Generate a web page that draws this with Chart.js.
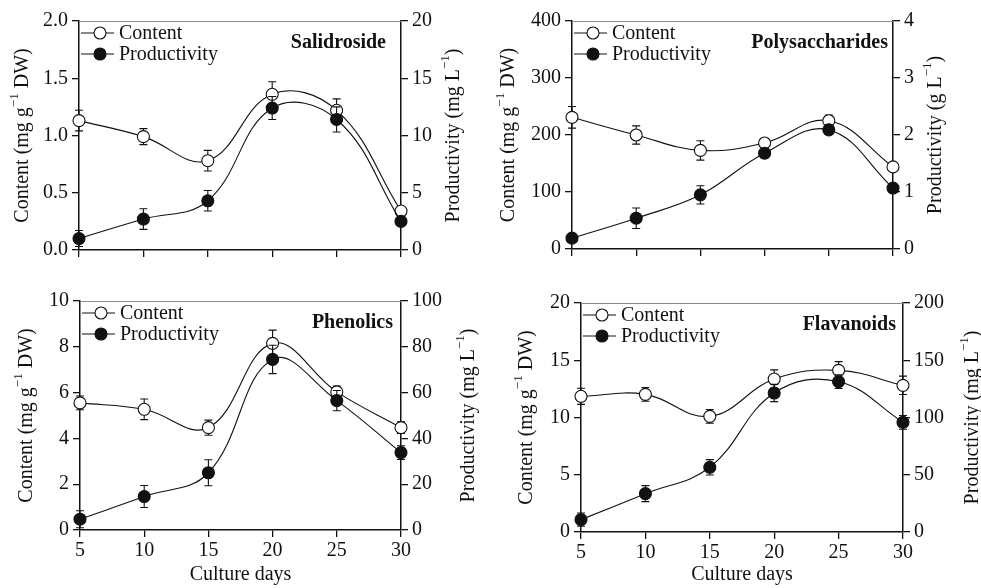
<!DOCTYPE html>
<html>
<head>
<meta charset="utf-8">
<script src="https://cdn.jsdelivr.net/npm/chart.js@4.4.0/dist/chart.umd.min.js"></script>
<style>
html, body { margin: 0; padding: 0; background: #fff; }
#wrap { position: relative; width: 981px; height: 588px; overflow: hidden; }
canvas { position: absolute; }
</style>
</head>
<body>
<div id="wrap">
  <canvas id="c1" width="490" height="280" style="left:0;top:0"></canvas>
  <canvas id="c2" width="491" height="280" style="left:490px;top:0"></canvas>
  <canvas id="c3" width="490" height="308" style="left:0;top:280px"></canvas>
  <canvas id="c4" width="491" height="308" style="left:490px;top:280px"></canvas>
</div>
<script>
// Culture days (x axis)
const days = [5, 10, 15, 20, 25, 30];

// Salidroside
const salContent = [1.13, 0.99, 0.78, 1.36, 1.22, 0.34];
const salContentErr = [0.09, 0.07, 0.09, 0.11, 0.10, 0.02];
const salProd = [1.0, 2.7, 4.3, 12.4, 11.4, 2.5];
const salProdErr = [0.7, 0.9, 0.9, 1.0, 1.1, 0.3];

// Polysaccharides
const polContent = [231, 200, 173, 186, 225, 144];
const polContentErr = [19, 16, 17, 5, 10, 5];
const polProd = [0.19, 0.54, 0.95, 1.68, 2.09, 1.07];
const polProdErr = [0.03, 0.18, 0.16, 0.08, 0.08, 0.05];

// Phenolics
const phenContent = [5.55, 5.27, 4.47, 8.15, 6.03, 4.47];
const phenContentErr = [0.3, 0.45, 0.33, 0.58, 0.26, 0.25];
const phenProd = [4.7, 14.6, 25.0, 74.5, 56.5, 33.8];
const phenProdErr = [3.7, 4.8, 5.7, 6.2, 4.4, 3.0];

// Flavanoids
const flavContent = [11.85, 12.02, 10.1, 13.36, 14.12, 12.81];
const flavContentErr = [0.7, 0.6, 0.6, 0.8, 0.76, 0.8];
const flavProd = [10.8, 33.5, 56.5, 121.4, 131.3, 95.8];
const flavProdErr = [5.8, 7.0, 6.7, 7.5, 6.0, 6.0];

const seriesLabels = ['Content', 'Productivity'];
const FONT = '"Liberation Serif", "Times New Roman", serif';
const INK = '#111';
const R = 6;

// error bars go right under their own markers, so the later series' bars show over earlier circles
const panelPlugin = {
    id: 'panel',
    beforeDatasetDraw(chart, args) {
        const ds = chart.data.datasets[args.index];
        const ctx = chart.ctx;
        const xs = chart.scales.x;
        const ys = chart.scales[ds.yAxisID];
        ctx.save();
        ctx.strokeStyle = INK;
        ctx.lineWidth = 1.1;
        ds.data.forEach((p, i) => {
            const e = ds.errors[i];
            const px = xs.getPixelForValue(p.x);
            const y1 = ys.getPixelForValue(p.y - e);
            const y2 = ys.getPixelForValue(p.y + e);
            ctx.beginPath();
            ctx.moveTo(px, y1); ctx.lineTo(px, y2);
            ctx.moveTo(px - 4, y1); ctx.lineTo(px + 4, y1);
            ctx.moveTo(px - 4, y2); ctx.lineTo(px + 4, y2);
            ctx.stroke();
        });
        ctx.restore();
    },
    afterDraw(chart, args, opts) {
        const ctx = chart.ctx;
        const a = chart.chartArea;
        ctx.save();

        // grey top frame
        ctx.strokeStyle = '#8a8a8a';
        ctx.lineWidth = 1;
        ctx.beginPath();
        ctx.moveTo(a.left, a.top + 0.5);
        ctx.lineTo(a.right, a.top + 0.5);
        ctx.stroke();

        // legend
        ctx.font = '20px ' + FONT;
        ctx.textBaseline = 'middle';
        ctx.textAlign = 'left';
        seriesLabels.forEach((lab, i) => {
            const y = a.top + 12 + i * 21;
            ctx.strokeStyle = INK;
            ctx.lineWidth = 1.1;
            ctx.beginPath();
            ctx.moveTo(a.left + 2, y);
            ctx.lineTo(a.left + 35, y);
            ctx.stroke();
            ctx.beginPath();
            ctx.arc(a.left + 21, y, R, 0, Math.PI * 2);
            ctx.fillStyle = i === 0 ? '#fff' : INK;
            ctx.fill();
            ctx.stroke();
            ctx.fillStyle = INK;
            ctx.fillText(lab, a.left + 40, y + 1);
        });

        // panel name
        ctx.font = 'bold 20px ' + FONT;
        ctx.textAlign = 'right';
        ctx.fillText(opts.name, a.right - opts.nameInset, a.top + 22);

        // y axis titles, both read bottom to top
        const cy = (a.top + a.bottom) / 2;
        drawRotated(ctx, a.left - opts.leftTitle, cy, opts.leftText);
        drawRotated(ctx, a.right + opts.rightTitle, cy, opts.rightText);
        ctx.restore();
    }
};

function drawRotated(ctx, x, y, parts) {
    ctx.save();
    ctx.translate(x, y);
    ctx.rotate(-Math.PI / 2);
    ctx.fillStyle = INK;
    ctx.textBaseline = 'middle';
    ctx.textAlign = 'left';
    const fonts = parts.map((p, i) => (i === 1 ? '13px ' : '20px ') + FONT);
    let total = 0;
    parts.forEach((p, i) => { ctx.font = fonts[i]; total += ctx.measureText(p).width; });
    let cx = -total / 2;
    parts.forEach((p, i) => {
        ctx.font = fonts[i];
        ctx.fillText(p, cx, i === 1 ? -7 : 1);
        cx += ctx.measureText(p).width;
    });
    ctx.restore();
}

function pts(vals) {
    return days.map((d, i) => ({ x: d, y: vals[i] }));
}

function makePanel(id, p) {
    const tickFont = { family: FONT, size: 20 };
    const side = (pos, width, max, step, dec) => ({
        type: 'linear',
        position: pos,
        min: 0,
        max: max,
        afterFit: s => { s.width = width; },
        grid: { display: true, drawOnChartArea: false, drawTicks: true, tickLength: 7, color: INK, lineWidth: 1.3 },
        border: { display: true, color: INK, width: 1.5 },
        ticks: {
            stepSize: step,
            autoSkip: false,
            padding: 4,
            color: INK,
            font: tickFont,
            callback: v => v.toFixed(dec)
        }
    });
    const series = (label, vals, errs, axis, fill) => ({
        label: label,
        data: pts(vals),
        errors: errs,
        yAxisID: axis,
        borderColor: INK,
        borderWidth: 1.1,
        pointRadius: R,
        pointBackgroundColor: fill,
        pointBorderColor: INK,
        pointBorderWidth: 1.1,
        tension: 0.4,
        clip: false
    });

    return new Chart(document.getElementById(id), {
        type: 'line',
        data: {
            // first dataset is painted last, so productivity sits on top
            datasets: [
                series(seriesLabels[1], p.prod, p.prodErr, 'y1', INK),
                series(seriesLabels[0], p.content, p.contentErr, 'y', '#fff')
            ]
        },
        options: {
            responsive: false,
            animation: false,
            events: [],
            layout: { padding: { top: p.top, left: 0, right: 0, bottom: 0 } },
            plugins: {
                legend: { display: false },
                tooltip: { enabled: false },
                panel: p.labels
            },
            scales: {
                x: {
                    type: 'linear',
                    min: 5,
                    max: 30,
                    afterFit: s => { s.height = p.xHeight; },
                    grid: { display: true, drawOnChartArea: false, drawTicks: true, tickLength: 7, color: INK, lineWidth: 1.3 },
                    border: { display: true, color: INK, width: 1.5 },
                    ticks: {
                        stepSize: 5,
                        autoSkip: false,
                        maxRotation: 0,
                        padding: 2,
                        color: INK,
                        font: tickFont,
                        callback: v => p.showX ? String(v) : ''
                    },
                    title: {
                        display: p.showX,
                        text: 'Culture days',
                        color: INK,
                        font: tickFont,
                        padding: { top: 0, bottom: 1 }
                    }
                },
                y: side('left', p.leftW, p.yMax, p.yStep, p.yDec),
                y1: side('right', p.rightW, p.y1Max, p.y1Step, 0)
            }
        },
        plugins: [panelPlugin]
    });
}

makePanel('c1', {
    content: salContent, contentErr: salContentErr, prod: salProd, prodErr: salProdErr,
    top: 21, xHeight: 30, leftW: 79, rightW: 89, showX: false,
    yMax: 2, yStep: 0.5, yDec: 1, y1Max: 20, y1Step: 5,
    labels: { name: 'Salidroside', nameInset: 15, leftTitle: 57, rightTitle: 52,
        leftText: ['Content (mg g', '\u22121', ' DW)'], rightText: ['Productivity (mg L', '\u22121', ')'] }
});

makePanel('c2', {
    content: polContent, contentErr: polContentErr, prod: polProd, prodErr: polProdErr,
    top: 21, xHeight: 31, leftW: 82, rightW: 88, showX: false,
    yMax: 400, yStep: 100, yDec: 0, y1Max: 4, y1Step: 1,
    labels: { name: 'Polysaccharides', nameInset: 5, leftTitle: 64, rightTitle: 42,
        leftText: ['Content (mg g', '\u22121', ' DW)'], rightText: ['Productivity (g L', '\u22121', ')'] }
});

makePanel('c3', {
    content: phenContent, contentErr: phenContentErr, prod: phenProd, prodErr: phenProdErr,
    top: 21, xHeight: 58, leftW: 80, rightW: 89, showX: true,
    yMax: 10, yStep: 2, yDec: 0, y1Max: 100, y1Step: 20,
    labels: { name: 'Phenolics', nameInset: 8, leftTitle: 54, rightTitle: 67,
        leftText: ['Content (mg g', '\u22121', ' DW)'], rightText: ['Productivity (mg L', '\u22121', ')'] }
});

makePanel('c4', {
    content: flavContent, contentErr: flavContentErr, prod: flavProd, prodErr: flavProdErr,
    top: 23, xHeight: 56, leftW: 91, rightW: 78, showX: true,
    yMax: 20, yStep: 5, yDec: 0, y1Max: 200, y1Step: 50,
    labels: { name: 'Flavanoids', nameInset: 7, leftTitle: 55, rightTitle: 69,
        leftText: ['Content (mg g', '\u22121', ' DW)'], rightText: ['Productivity (mg L', '\u22121', ')'] }
});
</script>
</body>
</html>
